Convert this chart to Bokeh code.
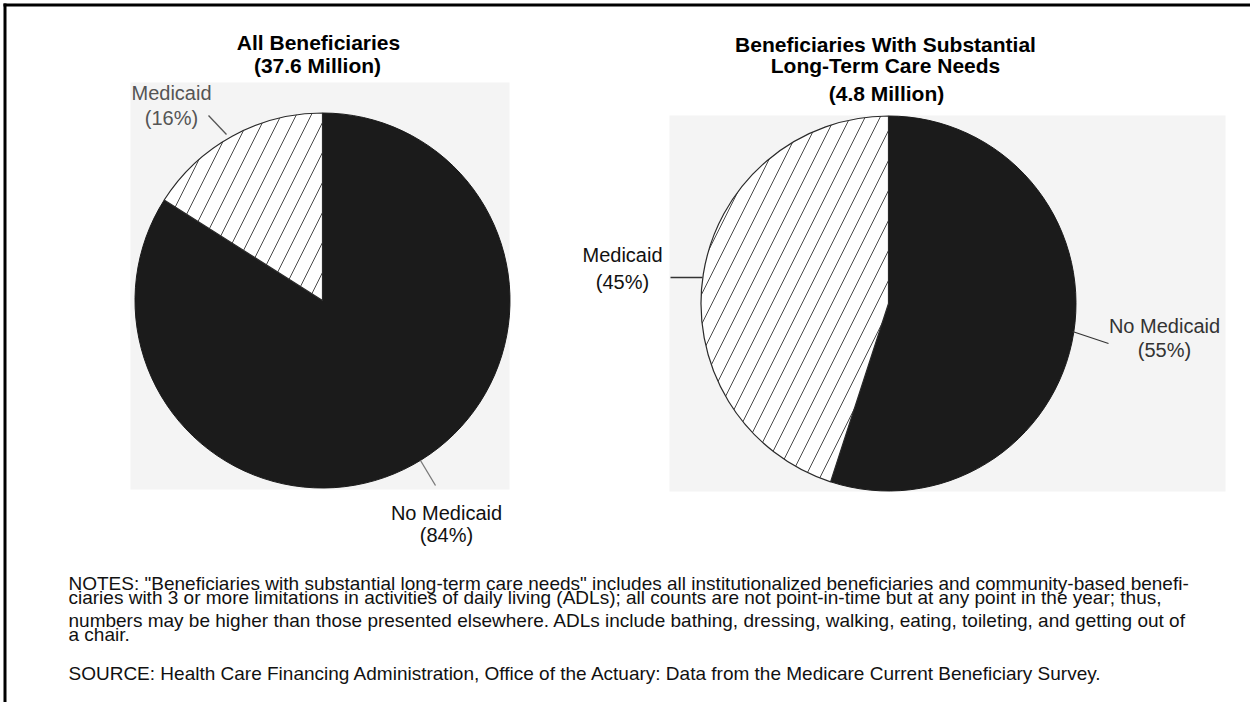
import math
from bokeh.plotting import figure
from bokeh.models import Range1d
from bokeh.core.properties import value
from bokeh.embed import file_html
from bokeh.resources import INLINE

# ---------------- data ----------------
pie_titles = [["All Beneficiaries"], ["Beneficiaries With Substantial", "Long-Term Care Needs"]]
totals_million = [37.6, 4.8]
categories = ["Medicaid", "No Medicaid"]
medicaid_pct = [16, 45]
no_medicaid_pct = [84, 55]
notes_lines = [
    'NOTES: "Beneficiaries with substantial long-term care needs" includes all institutionalized beneficiaries and community-based benefi-',
    'ciaries with 3 or more limitations in activities of daily living (ADLs); all counts are not point-in-time but at any point in the year; thus,',
    'numbers may be higher than those presented elsewhere. ADLs include bathing, dressing, walking, eating, toileting, and getting out of',
    'a chair.',
]
source_line = "SOURCE: Health Care Financing Administration, Office of the Actuary: Data from the Medicare Current Beneficiary Survey."

# ---------------- layout helpers (image pixel coords -> data) ----------------
W, H = 1250, 702
def Y(y):
    return H - y

FONT = value("Liberation Sans")

p = figure(width=W, height=H, x_range=Range1d(0, W), y_range=Range1d(0, H),
           output_backend="svg", toolbar_location=None, min_border=0,
           x_axis_type=None, y_axis_type=None)
p.grid.visible = False
p.outline_line_color = None
p.background_fill_color = "white"
p.border_fill_color = "white"

# frame (top and left rules)
p.segment(x0=[3, 4.5], y0=[Y(4.5), Y(3)], x1=[1250, 4.5], y1=[Y(4.5), Y(702)],
          line_color="black", line_width=3)

# scanned-paper background panels
p.quad(left=[130, 669], right=[509, 1225], top=[Y(82), Y(115)], bottom=[Y(489), Y(491)],
       fill_color="#f4f4f4", line_color=None)

# pies
centers = [(322, 300), (888, 303)]
radius = 187.5
for i, (cx, cy) in enumerate(centers):
    vals = [medicaid_pct[i], no_medicaid_pct[i]]
    tot = sum(vals)
    start = math.pi / 2
    a_med_end = start + 2 * math.pi * vals[0] / tot
    a_end = start + 2 * math.pi
    # No Medicaid (solid black)
    p.wedge(x=[cx], y=[Y(cy)], radius=radius, start_angle=[a_med_end], end_angle=[a_end],
            direction="anticlock", fill_color="#1b1b1b", line_color="#1b1b1b", line_width=1)
    # Medicaid (white, hatched)
    p.wedge(x=[cx], y=[Y(cy)], radius=radius, start_angle=[start], end_angle=[a_med_end],
            direction="anticlock", fill_color="white", line_color="#2a2a2a", line_width=1.2,
            hatch_pattern="/", hatch_color="#4a4a4a", hatch_scale=30, hatch_weight=1)

# titles
p.text(x=[318], y=[Y(42)], text=pie_titles[0], text_font=FONT, text_font_style="bold",
       text_font_size="21px", text_align="center", text_baseline="middle", text_color="black")
p.text(x=[317], y=[Y(65)], text=[f"({totals_million[0]} Million)"], text_font=FONT,
       text_font_style="bold", text_font_size="21px", text_align="center",
       text_baseline="middle", text_color="black")
p.text(x=[885, 885], y=[Y(44), Y(65)], text=pie_titles[1], text_font=FONT,
       text_font_style="bold", text_font_size="21px", text_align="center",
       text_baseline="middle", text_color="black")
p.text(x=[886], y=[Y(93)], text=[f"({totals_million[1]} Million)"], text_font=FONT,
       text_font_style="bold", text_font_size="21px", text_align="center",
       text_baseline="middle", text_color="black")

# slice labels
def label(x, y1, y2, name, pct, color):
    p.text(x=[x, x], y=[Y(y1), Y(y2)], text=[name, f"({pct}%)"], text_font=FONT,
           text_font_size="20px", text_align="center", text_baseline="middle",
           text_color=color)

label(171, 92, 117, categories[0], medicaid_pct[0], "#555555")
label(446, 512, 534, categories[1], no_medicaid_pct[0], "#111111")
label(622, 254, 281, categories[0], medicaid_pct[1], "#111111")
label(1164, 325, 349, categories[1], no_medicaid_pct[1], "#333333")

# leader lines
p.segment(x0=[208, 420, 670, 1072], y0=[Y(115), Y(460), Y(277), Y(331)],
          x1=[226, 435, 702, 1108], y1=[Y(134), Y(485), Y(277), Y(343)],
          line_color=["#555555", "#777777", "#333333", "#333333"], line_width=1.3)

# notes
p.text(x=[68] * 4, y=[Y(583), Y(597), Y(620), Y(634)], text=notes_lines, text_font=FONT,
       text_font_size="19px", text_align="left", text_baseline="middle", text_color="#111111")
p.text(x=[68], y=[Y(673)], text=[source_line], text_font=FONT,
       text_font_size="19px", text_align="left", text_baseline="middle", text_color="#111111")

open("out.html", "w").write(file_html(p, INLINE))
